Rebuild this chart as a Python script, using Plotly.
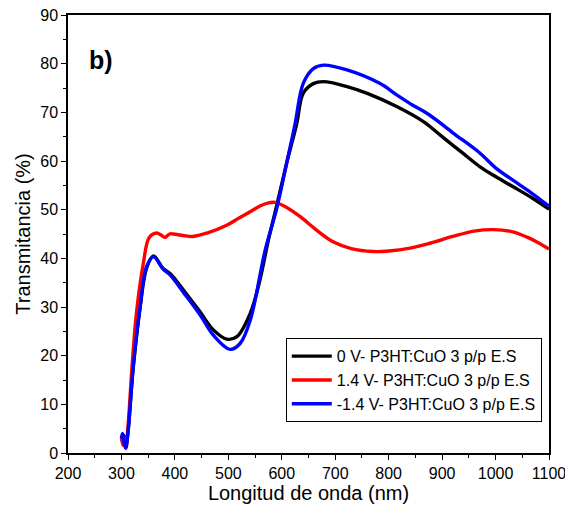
import plotly.graph_objects as go

# 0 V
x_black = [300, 303, 305, 308, 312, 322, 335, 347, 360, 378, 391, 416, 447, 472, 497, 516, 541, 559, 575, 590, 609, 628, 640, 659, 678, 722, 760, 815, 865, 900, 940, 971, 1000, 1033, 1070, 1100]
y_black = [3.5, 2.0, 3.6, 1.2, 4.0, 17.5, 30.0, 38.0, 40.5, 37.9, 36.9, 33.5, 29.0, 25.3, 23.4, 23.9, 28.7, 35.5, 43.8, 50.6, 59.5, 67.7, 73.9, 75.9, 76.3, 75.3, 73.9, 71.2, 68.1, 65.0, 61.5, 58.8, 56.8, 54.7, 52.3, 50.1]

# 1.4 V
x_red = [300, 303, 305, 308, 312, 320, 328, 341, 352, 366, 374, 381, 390, 397, 415, 434, 460, 497, 520, 540, 560, 575, 587, 610, 634, 665, 696, 730, 771, 800, 840, 877, 920, 960, 996, 1030, 1060, 1080, 1100]
y_red = [3.0, 1.6, 3.2, 1.0, 5.0, 18.0, 28.7, 39.0, 44.3, 45.2, 44.8, 44.3, 45.0, 45.0, 44.7, 44.5, 45.2, 46.8, 48.3, 49.5, 50.8, 51.4, 51.5, 50.4, 48.6, 45.8, 43.4, 42.0, 41.4, 41.5, 42.1, 43.1, 44.5, 45.6, 45.9, 45.5, 44.3, 43.2, 41.9]

# -1.4 V
x_blue = [300, 302, 305, 308, 312, 322, 335, 347, 360, 378, 391, 416, 447, 472, 503, 522, 541, 569, 590, 609, 625, 640, 659, 678, 722, 784, 815, 840, 877, 920, 971, 1000, 1040, 1070, 1100]
y_blue = [3.0, 4.0, 2.0, 1.0, 4.0, 17.7, 30.1, 38.3, 40.3, 37.8, 36.6, 33.0, 28.4, 24.2, 21.3, 22.5, 27.3, 41.7, 50.0, 59.5, 67.7, 75.9, 79.0, 79.7, 78.7, 75.9, 73.6, 71.8, 69.4, 65.8, 61.6, 58.6, 55.5, 53.2, 50.7]

names = ["0 V- P3HT:CuO 3 p/p E.S", "1.4 V- P3HT:CuO 3 p/p E.S", "-1.4 V- P3HT:CuO 3 p/p E.S"]
colors = ["#000000", "#ff0000", "#0000ff"]

x_ticks = [200, 300, 400, 500, 600, 700, 800, 900, 1000, 1100]
y_ticks = [0, 10, 20, 30, 40, 50, 60, 70, 80, 90]

fig = go.Figure()
for xs, ys, nm, c in [(x_black, y_black, names[0], colors[0]),
                      (x_red, y_red, names[1], colors[1]),
                      (x_blue, y_blue, names[2], colors[2])]:
    fig.add_trace(go.Scatter(x=xs, y=ys, mode="lines", name=nm,
                             line=dict(color=c, width=3.4, shape="spline", smoothing=1.0)))

font_family = "Liberation Sans, Arial, sans-serif"
axis_common = dict(showline=True, linecolor="black", linewidth=1.5, mirror=True,
                   ticks="outside", ticklen=5, tickwidth=1.2, tickcolor="black",
                   showgrid=False, zeroline=False, automargin=False,
                   ticklabeloverflow="allow",
                   tickfont=dict(family=font_family, size=16, color="black"))

fig.update_xaxes(range=[200, 1100], tickvals=x_ticks,
                 title=dict(text="Longitud de onda (nm)", font=dict(family=font_family, size=20, color="black"), standoff=2),
                 minor=dict(dtick=50, tick0=200, ticks="outside", ticklen=3, tickcolor="black"),
                 **axis_common)
fig.update_yaxes(range=[0, 90], tickvals=y_ticks,
                 title=dict(text="Transmitancia (%)", font=dict(family=font_family, size=20, color="black"), standoff=4),
                 minor=dict(dtick=5, tick0=0, ticks="outside", ticklen=3, tickcolor="black"),
                 **axis_common)

fig.add_annotation(text="<b>b)</b>", x=0.04, y=0.897, xref="paper", yref="paper",
                   xanchor="left", yanchor="middle", showarrow=False,
                   font=dict(family=font_family, size=25, color="black"))

fig.update_layout(
    width=557, height=498,
    margin=dict(l=60, r=16, t=7, b=53, autoexpand=False),
    plot_bgcolor="white", paper_bgcolor="white",
    legend=dict(x=0.985, y=0.262, xanchor="right", yanchor="top",
                bordercolor="black", borderwidth=1, bgcolor="white",
                font=dict(family=font_family, size=16, color="black"),
                tracegroupgap=0, itemwidth=40),
    showlegend=True,
)

fig.write_html("out.html")
